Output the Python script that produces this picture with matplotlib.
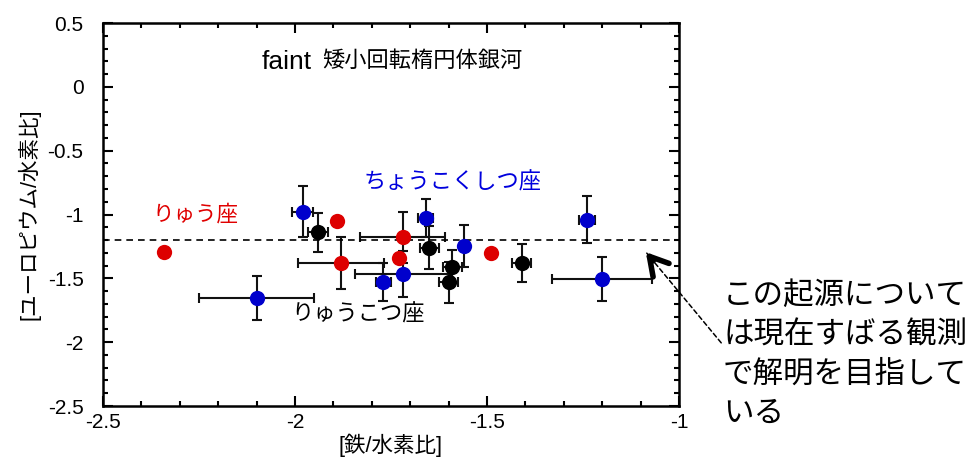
import matplotlib.pyplot as plt
import numpy as np

plt.rcParams['font.family'] = ['Liberation Sans', 'Noto Sans CJK JP', 'DejaVu Sans']

# りゅうこつ座 (black)
car_fe = [-1.94, -1.65, -1.59, -1.60, -1.41]
car_eu = [-1.14, -1.26, -1.41, -1.53, -1.38]
car_fe_err = [0.025, 0.025, 0.025, 0.025, 0.025]
car_eu_err = [0.15, 0.17, 0.13, 0.16, 0.15]

# りゅう座 (red)
dra_fe = [-2.34, -1.89, -1.72, -1.88, -1.73, -1.49]
dra_eu = [-1.29, -1.05, -1.18, -1.38, -1.34, -1.30]
dra_fe_err = [0, 0, 0.11, 0.112, 0, 0]
dra_eu_err = [0, 0, 0.2, 0.2, 0, 0]

# ちょうこくしつ座 (blue)
scl_fe = [-1.98, -1.66, -1.56, -1.24, -1.20, -2.10, -1.77, -1.72]
scl_eu = [-0.98, -1.03, -1.25, -1.04, -1.505, -1.655, -1.53, -1.465]
scl_fe_err = [0.028, 0.02, 0, 0.02, 0.13, 0.15, 0.02, 0.125]
scl_eu_err = [0.2, 0.15, 0.165, 0.185, 0.17, 0.17, 0.15, 0.18]

mean_eu = -1.2

fig = plt.figure(figsize=(9.74, 4.58), dpi=100)
ax = fig.add_axes([103 / 974, 1 - 406 / 458, 576 / 974, 383 / 458])

eb = dict(fmt='o', ms=11, ecolor='#111111', elinewidth=1.5, capsize=3.5, capthick=1.5, mec='none')
ax.errorbar(car_fe, car_eu, xerr=car_fe_err, yerr=car_eu_err, color='black', **eb)
ax.errorbar(dra_fe, dra_eu, xerr=dra_fe_err, yerr=dra_eu_err, color='#dd0000', **eb)
ax.errorbar(scl_fe, scl_eu, xerr=scl_fe_err, yerr=scl_eu_err, color='#0000cc', **eb)

ax.axhline(mean_eu, color='black', lw=1.2, ls=(0, (4, 3)))

ax.set_xlim(-2.5, -1)
ax.set_ylim(-2.5, 0.5)
ax.set_xticks(np.arange(-2.5, -0.99, 0.5))
ax.set_xticklabels(['-2.5', '-2', '-1.5', '-1'])
ax.set_yticks(np.arange(-2.5, 0.51, 0.5))
ax.set_yticklabels(['-2.5', '-2', '-1.5', '-1', '-0.5', '0', '0.5'])
ax.set_xticks(np.arange(-2.5, -0.99, 0.1), minor=True)
ax.set_yticks(np.arange(-2.5, 0.51, 0.1), minor=True)
ax.tick_params(which='both', direction='in', top=True, right=True, width=1.5)
ax.tick_params(which='major', length=7, labelsize=15)
ax.tick_params(which='minor', length=3.5)
ax.tick_params(axis='y', pad=14)
ax.tick_params(axis='x', pad=5)
for s in ax.spines.values():
    s.set_linewidth(1.8)

ax.set_xlabel('[鉄/水素比]', fontsize=15.5, labelpad=1)
ax.set_ylabel('[ユーロピウム/水素比]', fontsize=15.5, labelpad=5)

ax.text(-2.086, 0.195, 'faint', fontsize=19, ha='left', va='center')
ax.text(-1.93, 0.195, '矮小回転楕円体銀河', fontsize=16, ha='left', va='center')
ax.text(-2.26, -1.0, 'りゅう座', fontsize=15.5, color='#e00000', ha='center', va='center')
ax.text(-1.589, -0.755, 'ちょうこくしつ座', fontsize=16, color='#0000dd', ha='center', va='center')
ax.text(-1.836, -1.787, 'りゅうこつ座', fontsize=16, color='black', ha='center', va='center')

fig.text(723 / 974, 1 - 281 / 458, 'この起源について\nは現在すばる観測\nで解明を目指して\nいる',
         fontsize=22, ha='left', va='top', linespacing=1.4)

# dashed pointer with a bold head
ax.annotate('', xy=(645, 207), xytext=(723, 113), xycoords='figure pixels', textcoords='figure pixels',
            arrowprops=dict(arrowstyle='-', ls=(0, (3, 2)), lw=1.1, color='black'))
ax.annotate('', xy=(644, 208), xytext=(655, 195), xycoords='figure pixels', textcoords='figure pixels',
            arrowprops=dict(arrowstyle='->,head_length=1.3,head_width=0.75', lw=4, color='black'))

fig.savefig('out.png', dpi=100)
